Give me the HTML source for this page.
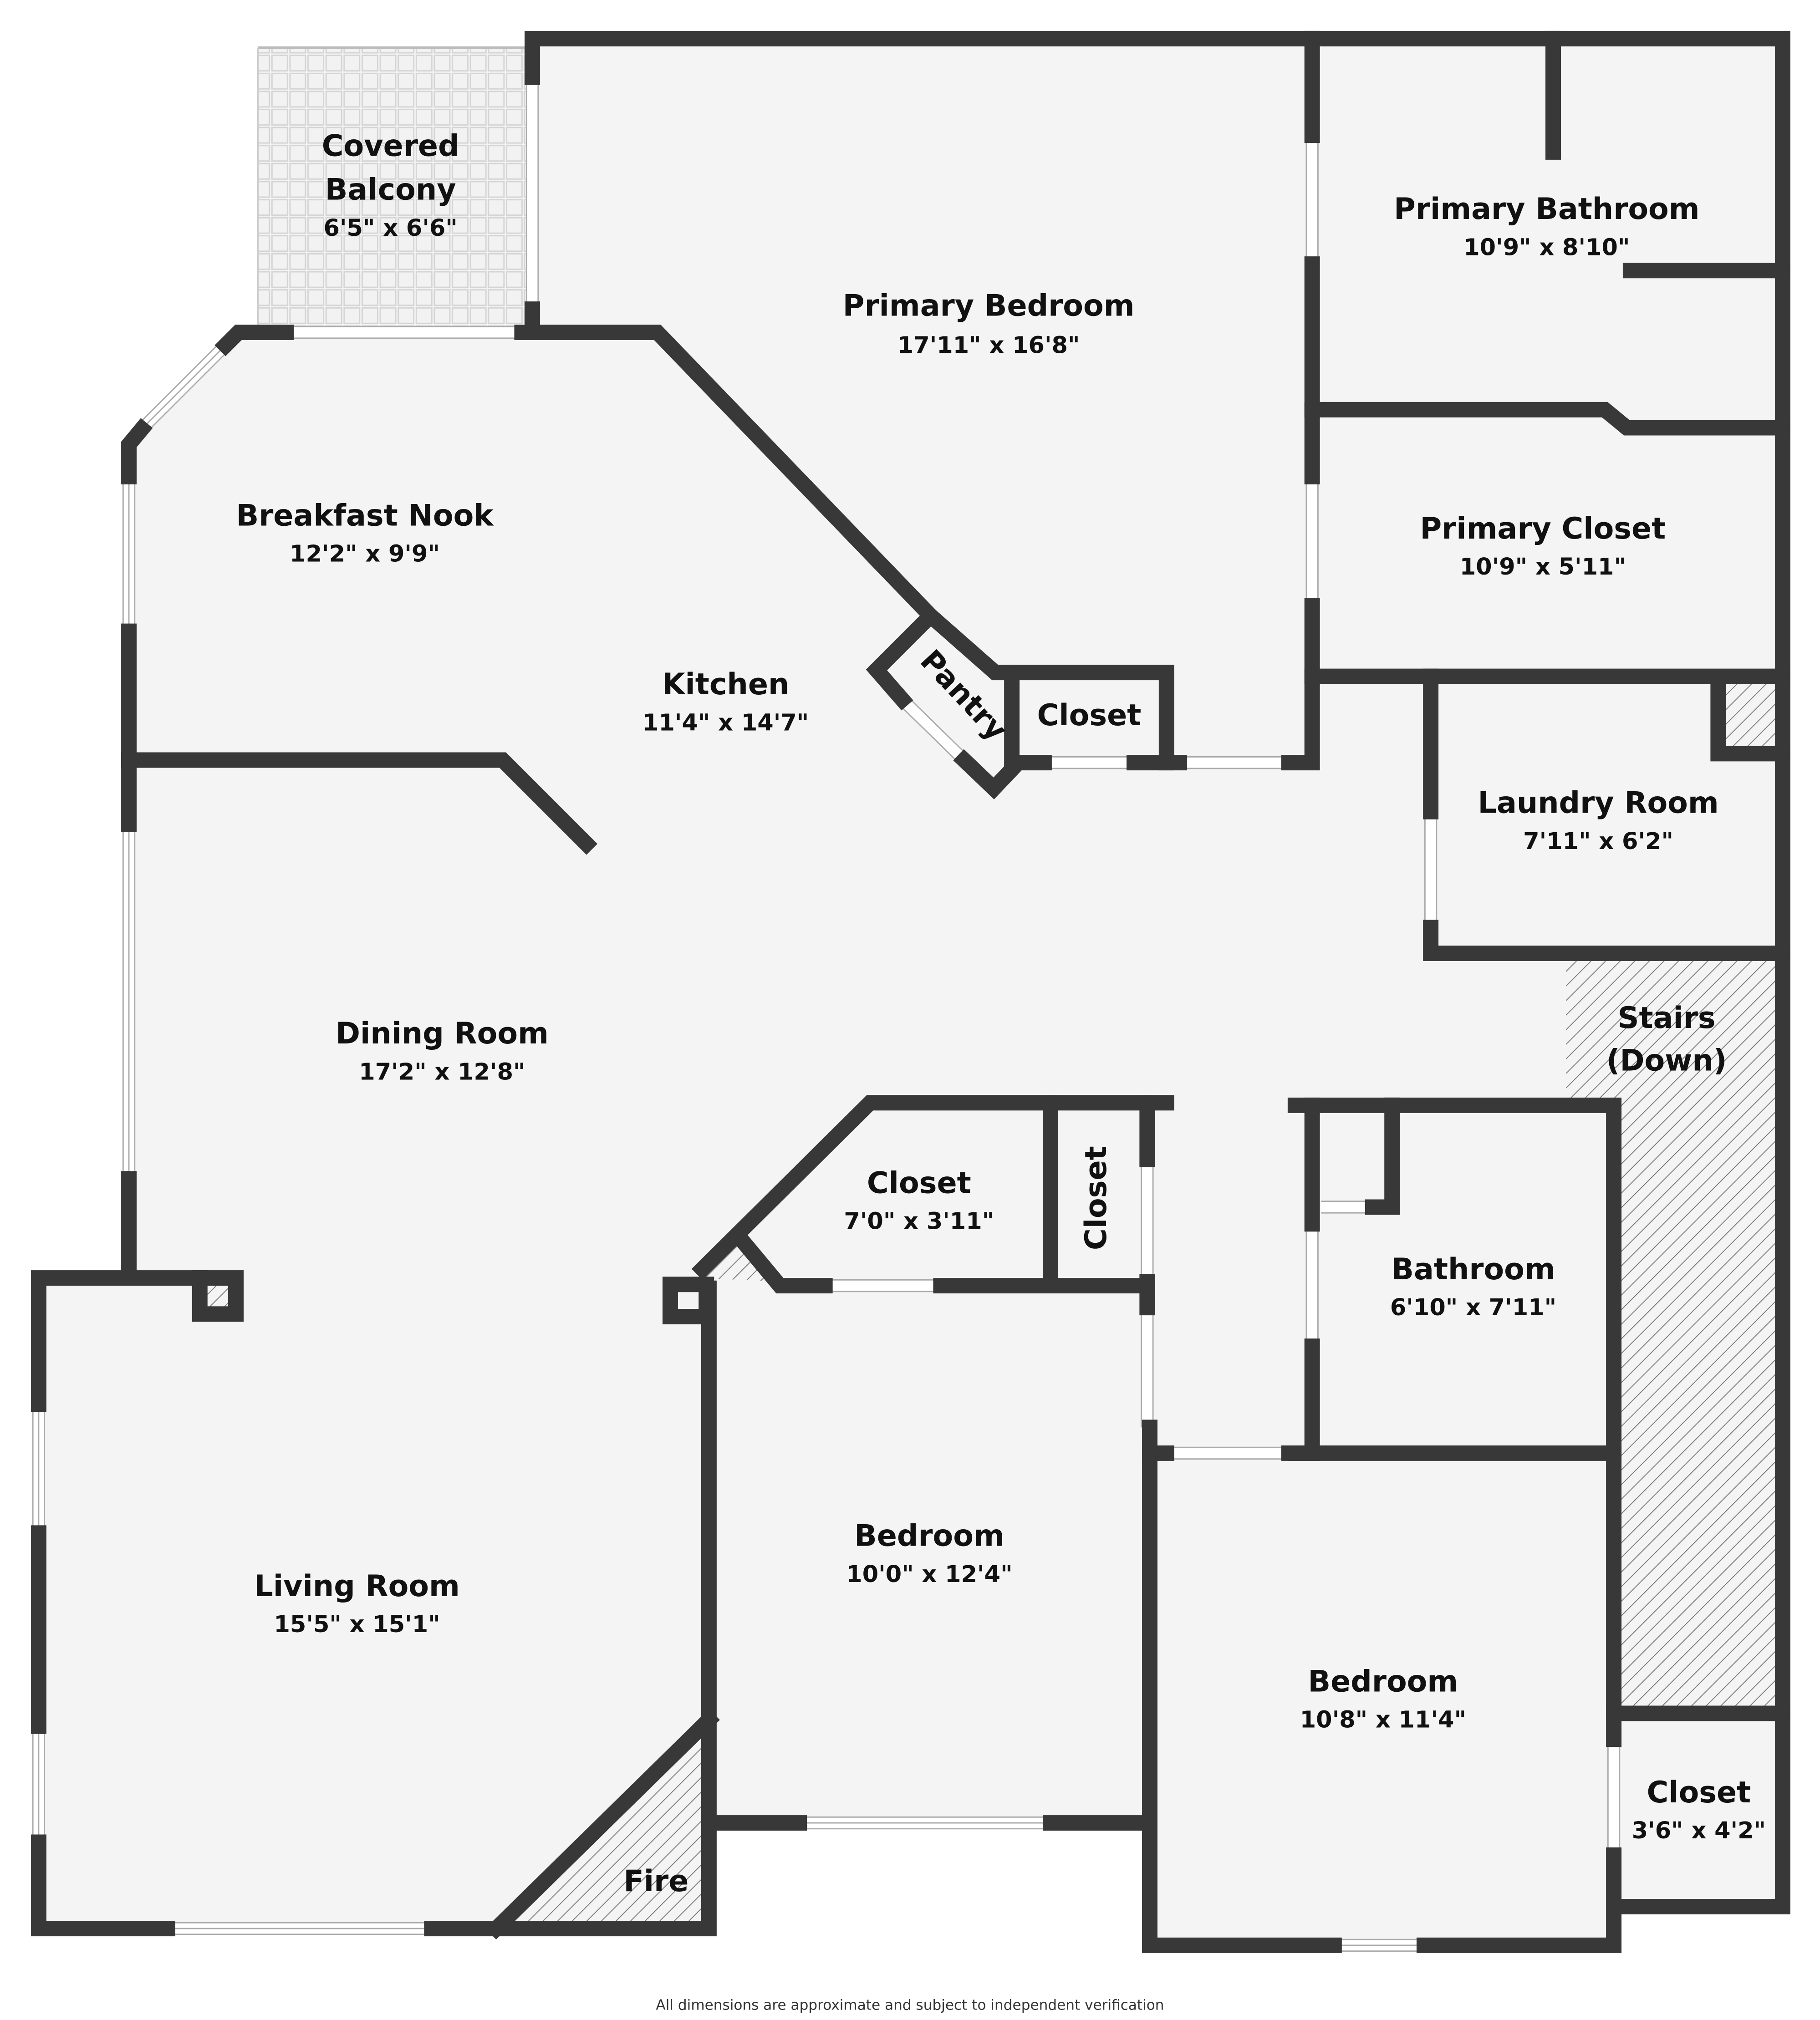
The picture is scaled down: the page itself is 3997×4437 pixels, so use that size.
<!DOCTYPE html>
<html><head><meta charset="utf-8"><style>
html,body{margin:0;padding:0;background:#fff}
svg{display:block}
text{font-family:"DejaVu Sans","Liberation Sans",sans-serif;font-weight:bold;fill:#111;text-anchor:middle}
.n{font-size:23px}.d{font-size:18px}
</style></head><body>
<svg width="3997" height="4437" viewBox="0 0 1412 1568" preserveAspectRatio="none" xmlns="http://www.w3.org/2000/svg">
<defs>
<pattern id="h" width="8" height="8" patternUnits="userSpaceOnUse" patternTransform="rotate(45)"><rect width="8" height="8" fill="#f4f4f4"/><line x1="0" y1="0" x2="0" y2="8" stroke="#777" stroke-width="1.3"/></pattern>
<pattern id="t" width="14" height="14" patternUnits="userSpaceOnUse"><rect width="14" height="14" fill="#f2f2f2"/><rect x="1" y="1" width="12" height="12" fill="none" stroke="#d4d4d4" stroke-width="1"/></pattern>
</defs>
<rect width="1412" height="1568" fill="#fff"/>
<polygon fill="#f4f4f4" points="413,30 1383,30 1383,1480 1255,1480 1255,1510 892,1510 892,1415 550,1415 550,1497 30,1497 30,992 100,992 100,345 185,258 413,258"/>
<rect x="200" y="37" width="213" height="221" fill="url(#t)"/>
<line x1="200" y1="37" x2="413" y2="37" stroke="#bbb" stroke-width="2"/>
<line x1="200" y1="37" x2="200" y2="258" stroke="#ccc" stroke-width="1.5"/>
<polygon fill="url(#h)" points="1215,745 1378,745 1378,1330 1255,1330 1255,855 1215,855"/>
<polygon fill="url(#h)" points="1336,530 1378,530 1378,582 1336,582"/>
<polygon fill="url(#h)" points="385,1497 550,1497 550,1335"/>
<polygon fill="url(#h)" points="545,992 575,962 605,995"/>
<polygon fill="url(#h)" points="160,995 180,995 180,1017 160,1017"/>
<g id="win" fill="none">
<g stroke="#aaa" stroke-width="10">
<line x1="413" y1="60" x2="413" y2="240"/><line x1="222" y1="258" x2="405" y2="258"/>
<line x1="175" y1="268" x2="110" y2="333"/><line x1="100" y1="370" x2="100" y2="490"/>
<line x1="100" y1="640" x2="100" y2="915"/><line x1="1018" y1="105" x2="1018" y2="205"/>
<line x1="1018" y1="370" x2="1018" y2="470"/><line x1="810" y1="592" x2="880" y2="592"/>
<line x1="915" y1="592" x2="1000" y2="592"/><line x1="700" y1="543" x2="748" y2="590"/>
<line x1="1110" y1="630" x2="1110" y2="720"/><line x1="1018" y1="950" x2="1018" y2="1045"/>
<line x1="1025" y1="937" x2="1065" y2="937"/><line x1="905" y1="1128" x2="1000" y2="1128"/>
<line x1="1252" y1="1350" x2="1252" y2="1440"/><line x1="1035" y1="1510" x2="1105" y2="1510"/>
<line x1="890" y1="900" x2="890" y2="995"/><line x1="890" y1="1015" x2="890" y2="1108"/>
<line x1="640" y1="998" x2="730" y2="998"/><line x1="620" y1="1415" x2="815" y2="1415"/>
<line x1="30" y1="1090" x2="30" y2="1190"/><line x1="30" y1="1340" x2="30" y2="1430"/>
<line x1="130" y1="1497" x2="335" y2="1497"/>
</g>
</g>
<g fill="none" stroke="#fff" stroke-width="8">
<line x1="413" y1="60" x2="413" y2="240"/><line x1="222" y1="258" x2="405" y2="258"/>
<line x1="175" y1="268" x2="110" y2="333"/><line x1="100" y1="370" x2="100" y2="490"/>
<line x1="100" y1="640" x2="100" y2="915"/><line x1="1018" y1="105" x2="1018" y2="205"/>
<line x1="1018" y1="370" x2="1018" y2="470"/><line x1="810" y1="592" x2="880" y2="592"/>
<line x1="915" y1="592" x2="1000" y2="592"/><line x1="700" y1="543" x2="748" y2="590"/>
<line x1="1110" y1="630" x2="1110" y2="720"/><line x1="1018" y1="950" x2="1018" y2="1045"/>
<line x1="1025" y1="937" x2="1065" y2="937"/><line x1="905" y1="1128" x2="1000" y2="1128"/>
<line x1="1252" y1="1350" x2="1252" y2="1440"/><line x1="1035" y1="1510" x2="1105" y2="1510"/>
<line x1="890" y1="900" x2="890" y2="995"/><line x1="890" y1="1015" x2="890" y2="1108"/>
<line x1="640" y1="998" x2="730" y2="998"/><line x1="620" y1="1415" x2="815" y2="1415"/>
<line x1="30" y1="1090" x2="30" y2="1190"/><line x1="30" y1="1340" x2="30" y2="1430"/>
<line x1="130" y1="1497" x2="335" y2="1497"/>
</g>
<g fill="none" stroke="#aaa" stroke-width="1">
<line x1="175" y1="268" x2="110" y2="333"/><line x1="100" y1="370" x2="100" y2="490"/>
<line x1="100" y1="640" x2="100" y2="915"/><line x1="620" y1="1415" x2="815" y2="1415"/>
<line x1="30" y1="1090" x2="30" y2="1190"/><line x1="30" y1="1340" x2="30" y2="1430"/>
<line x1="130" y1="1497" x2="335" y2="1497"/><line x1="1035" y1="1510" x2="1105" y2="1510"/>
</g>
<g fill="none" stroke="#383838" stroke-width="12" stroke-linecap="square" stroke-linejoin="miter">
<polyline points="413,60 413,30 1383,30 1383,1480 1255,1480"/>
<line x1="413" y1="240" x2="413" y2="258"/>
<polyline points="222,258 185,258 175,268"/>
<polyline points="405,258 510,258 722,478"/>
<polyline points="110,333 100,345 100,370"/>
<polyline points="100,490 100,640"/><polyline points="100,915 100,992 155,992"/>
<polyline points="100,590 390,590 455,655"/>
<polyline points="722,478 680,520 700,543"/>
<polyline points="722,478 772,522 905,522 905,592 915,592"/>
<polyline points="748,590 771,612 790,592 810,592"/>
<polyline points="785,522 785,592"/>
<polyline points="880,592 905,592"/>
<polyline points="1000,592 1018,592 1018,470"/>
<polyline points="1018,30 1018,105"/><polyline points="1018,205 1018,370"/>
<line x1="1205" y1="30" x2="1205" y2="118"/>
<line x1="1265" y1="210" x2="1383" y2="210"/>
<polyline points="1018,318 1245,318 1262,332 1383,332"/>
<line x1="1018" y1="525" x2="1383" y2="525"/>
<polyline points="1110,525 1110,630"/>
<polyline points="1110,720 1110,740 1383,740"/>
<polyline points="1333,530 1333,585 1383,585"/>
<polyline points="1005,858 1018,858 1018,950"/>
<polyline points="1018,1045 1018,1128 1005,1128"/>
<polyline points="1080,858 1252,858 1252,1350"/>
<polyline points="1080,858 1080,937 1065,937"/>
<line x1="1018" y1="858" x2="1080" y2="858"/>
<line x1="1000" y1="1128" x2="1252" y2="1128"/>
<polyline points="1252,1440 1252,1510 1105,1510"/>
<polyline points="1035,1510 892,1510 892,1108"/>
<line x1="892" y1="1128" x2="905" y2="1128"/>
<line x1="1252" y1="1330" x2="1383" y2="1330"/>
<polyline points="905,856 675,856 545,985"/>
<line x1="815" y1="856" x2="815" y2="998"/>
<polyline points="890,856 890,900"/>
<polyline points="890,995 890,1015"/>
<polyline points="575,962 605,998 640,998"/>
<polyline points="730,998 890,998"/>
<polyline points="550,1000 550,1497 335,1497"/>
<polyline points="130,1497 30,1497 30,1430"/>
<polyline points="30,1340 30,1190"/><polyline points="30,1090 30,992 100,992"/>
<polyline points="620,1415 550,1415"/><polyline points="815,1415 892,1415"/>
<line x1="385" y1="1497" x2="550" y2="1335"/>
<rect x="155" y="992" width="28" height="28"/>
<rect x="520" y="997" width="28" height="25"/>
</g>
<rect x="166" y="1000" width="9" height="12" fill="url(#h)"/>
<text class="n" x="303" y="121">Covered</text><text class="n" x="303" y="155">Balcony</text><text class="d" x="303" y="183">6'5" x 6'6"</text>
<text class="n" x="767" y="245">Primary Bedroom</text><text class="d" x="767" y="274">17'11" x 16'8"</text>
<text class="n" x="1200" y="170">Primary Bathroom</text><text class="d" x="1200" y="198">10'9" x 8'10"</text>
<text class="n" x="1197" y="418">Primary Closet</text><text class="d" x="1197" y="446">10'9" x 5'11"</text>
<text class="n" x="283" y="408">Breakfast Nook</text><text class="d" x="283" y="436">12'2" x 9'9"</text>
<text class="n" x="563" y="539">Kitchen</text><text class="d" x="563" y="567">11'4" x 14'7"</text>
<text class="n" x="742" y="545" transform="rotate(47 742 545)">Pantry</text>
<text class="n" x="845" y="563">Closet</text>
<text class="n" x="1240" y="631">Laundry Room</text><text class="d" x="1240" y="659">7'11" x 6'2"</text>
<text class="n" x="1293" y="798">Stairs</text><text class="n" x="1293" y="831">(Down)</text>
<text class="n" x="343" y="810">Dining Room</text><text class="d" x="343" y="838">17'2" x 12'8"</text>
<text class="n" x="713" y="926">Closet</text><text class="d" x="713" y="954">7'0" x 3'11"</text>
<text class="n" x="858" y="930" transform="rotate(-90 858 930)">Closet</text>
<text class="n" x="1143" y="993">Bathroom</text><text class="d" x="1143" y="1021">6'10" x 7'11"</text>
<text class="n" x="721" y="1200">Bedroom</text><text class="d" x="721" y="1228">10'0" x 12'4"</text>
<text class="n" x="277" y="1239">Living Room</text><text class="d" x="277" y="1267">15'5" x 15'1"</text>
<text class="n" x="1073" y="1313">Bedroom</text><text class="d" x="1073" y="1341">10'8" x 11'4"</text>
<text class="n" x="1318" y="1399">Closet</text><text class="d" x="1318" y="1427">3'6" x 4'2"</text>
<text class="n" x="509" y="1468">Fire</text>
<text x="706" y="1560" style="font-size:11px;font-weight:normal;fill:#333">All dimensions are approximate and subject to independent verification</text>
</svg>
</body></html>
